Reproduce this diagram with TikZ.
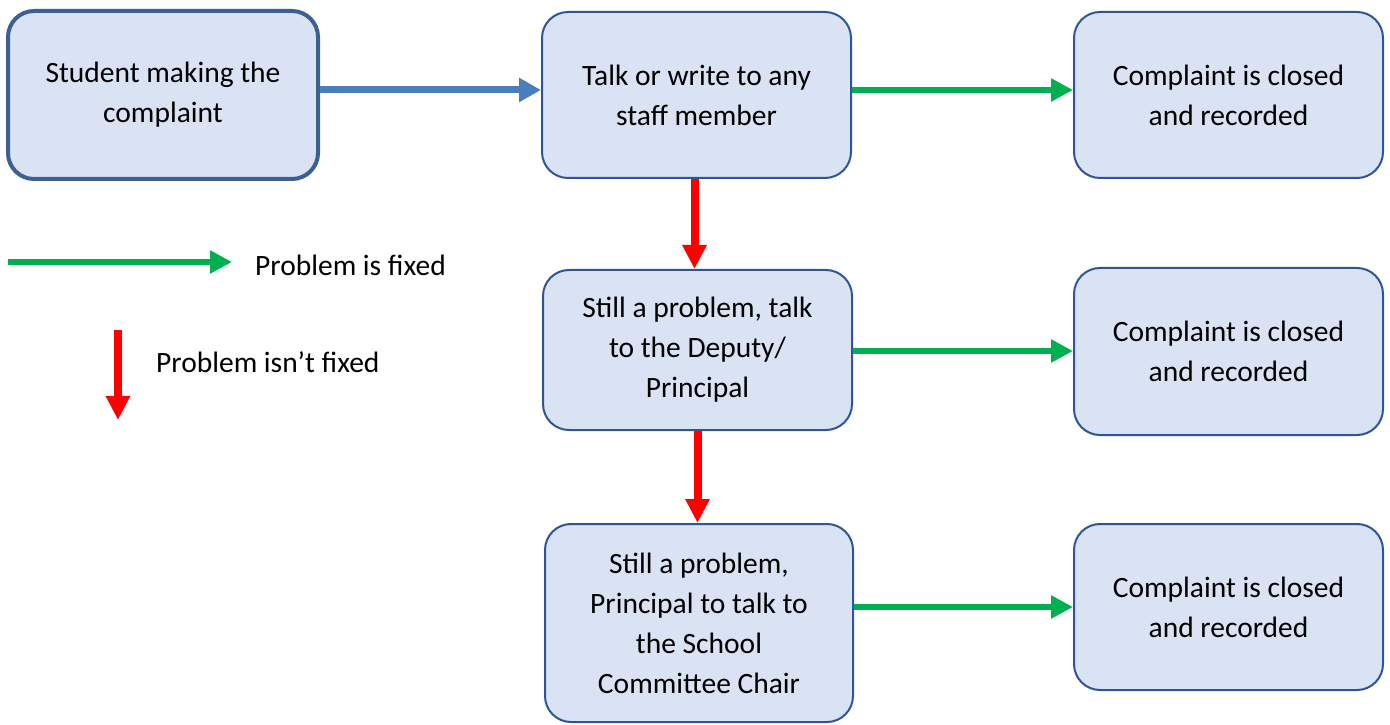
\documentclass[tikz,border=0pt]{standalone}
\usepackage{fontspec}
\setmainfont{Carlito}
\usetikzlibrary{arrows.meta}
\definecolor{boxfill}{HTML}{DAE3F3}
\definecolor{boxline}{HTML}{2F5597}
\definecolor{startline}{HTML}{3C6091}
\definecolor{bluearrow}{HTML}{4A7EBB}
\definecolor{greenarrow}{HTML}{00B050}
\definecolor{redarrow}{HTML}{FF0000}
\tikzset{
  stepbox/.style={draw=boxline, line width=2pt, fill=boxfill, rounded corners=26pt,
    inner sep=0pt, align=center, font=\fontsize{29.5}{40}\selectfont},
  startbox/.style={stepbox, draw=startline, line width=4pt},
  bluearr/.style={draw=bluearrow, line width=7pt, -{Triangle[length=22pt,width=23pt]}},
  greenarr/.style={draw=greenarrow, line width=5.5pt, -{Triangle[length=22pt,width=22pt]}},
  redarr/.style={draw=redarrow, line width=8pt, -{Triangle[length=24pt,width=23pt]}},
  legtext/.style={anchor=west, inner sep=0pt, font=\fontsize{29.5}{40}\selectfont}
}
\begin{document}
\begin{tikzpicture}[x=1pt,y=1pt]
\useasboundingbox (0,0) rectangle (1390,724);
\node[startbox, minimum width=310pt, minimum height=168pt] (b1) at (163,629) {Student making the\\complaint};
\node[stepbox, minimum width=309pt, minimum height=166pt] (b2) at (696.5,629) {Talk or write to any\\staff member};
\node[stepbox, minimum width=309pt, minimum height=166pt] (b3) at (1228.5,629) {Complaint is closed\\and recorded};
\node[stepbox, minimum width=309pt, minimum height=160pt] (b4) at (697.5,374) {Still a problem, talk\\to the Deputy/\\Principal};
\node[stepbox, minimum width=309pt, minimum height=167pt] (b5) at (1228.5,372.5) {Complaint is closed\\and recorded};
\node[stepbox, minimum width=308pt, minimum height=198pt] (b6) at (699,101) {Still a problem,\\Principal to talk to\\the School\\Committee Chair};
\node[stepbox, minimum width=309pt, minimum height=166pt] (b7) at (1228.5,117) {Complaint is closed\\and recorded};

\draw[bluearr] ([yshift=5pt]b1.east) -- ([yshift=5pt]b1.east -| b2.west);
\draw[greenarr] ([yshift=5pt]b2.east) -- ([yshift=5pt]b3.west);
\draw[redarr] ([xshift=-2pt]b2.south) -- ([xshift=-2pt]b2.south |- b4.north);
\draw[greenarr] ([yshift=-1pt]b4.east) -- ([yshift=-1pt]b4.east -| b5.west);
\draw[redarr] (b4.south) -- (b4.south |- b6.north);
\draw[greenarr] (b7.west -| b6.east) -- (b7.west);

\coordinate (g1) at (8,462);
\coordinate (g2) at (232,462);
\draw[greenarr, line width=6pt] (g1) -- (g2);
\node[legtext] (lg) at (255,459) {Problem is fixed};
\coordinate (r1) at (118,394);
\coordinate (r2) at (118,304);
\draw[redarr] (r1) -- (r2);
\node[legtext] (lr) at (156,362) {Problem isn’t fixed};
\end{tikzpicture}
\end{document}
